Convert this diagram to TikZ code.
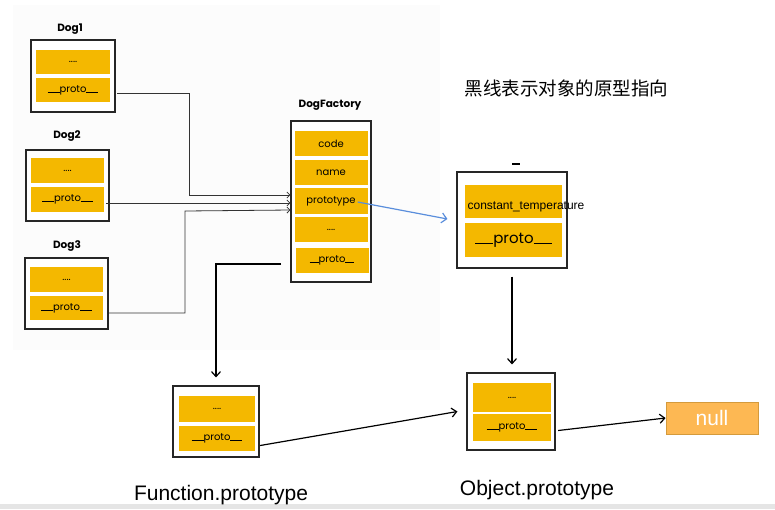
\documentclass[tikz,border=0pt]{standalone}
\usepackage{fontspec}
\setmainfont{Liberation Sans}
\newfontfamily\hand{Poppins}
\newfontfamily\cjk{Noto Sans CJK SC}
\usetikzlibrary{arrows.meta}
\definecolor{fieldyellow}{HTML}{F4B800}
\definecolor{nullfill}{HTML}{FDB853}
\definecolor{nulldraw}{HTML}{D49A3C}
\definecolor{bluearrow}{HTML}{5A8EDC}
\newcommand{\protolbl}[1]{\rule[-0.4pt]{#1}{0.7pt}proto\rule[-0.4pt]{#1}{0.7pt}}
\tikzset{
  outer/.style={draw=black!85, line width=1.1pt, fill=white, inner sep=0pt},
  field/.style={fill=fieldyellow, inner sep=0pt, font=\hand\fontsize{10}{11}\selectfont},
  title/.style={font=\hand\bfseries\fontsize{10.5}{12}\selectfont},
  conn/.style={draw=black!80, line width=0.8pt},
  hook/.style={-{Straight Barb[length=3pt,width=6pt]}},
  arr/.style={-{Straight Barb[length=5pt,width=9pt]}, line width=1.2pt},
  biglabel/.style={font=\fontsize{21}{25}\selectfont}
}
\begin{document}
\begin{tikzpicture}[x=1pt,y=-1pt]
\useasboundingbox (0,0) rectangle (775,509);
\fill[white] (0,0) rectangle (775,509);
\fill[black!1] (13,5) rectangle (440,350);
\fill[black!10] (0,504) rectangle (775,509);

% Dog1
\node[title] (t1) at (70,29) {Dog1};
\node[outer, minimum width=84, minimum height=72] (d1) at (73,76) {};
\node[field, minimum width=74, minimum height=24] (d1f) at (73,62) {....};
\node[field, minimum width=74, minimum height=24] (d1p) at (73,90) {\protolbl{12pt}};
% Dog2
\node[title] (t2) at (67,136) {Dog2};
\node[outer, minimum width=83, minimum height=71] (d2) at (67.5,185.5) {};
\node[field, minimum width=73, minimum height=25] (d2f) at (67.5,170.5) {....};
\node[field, minimum width=73, minimum height=25] (d2p) at (67.5,199.5) {\protolbl{12pt}};
% Dog3
\node[title] (t3) at (67,246) {Dog3};
\node[outer, minimum width=83, minimum height=71] (d3) at (66.5,293.5) {};
\node[field, minimum width=73, minimum height=25] (d3f) at (66.5,279.5) {....};
\node[field, minimum width=73, minimum height=24] (d3p) at (66.5,308) {\protolbl{12pt}};

% DogFactory
\node[title] (tdf) at (330,105) {DogFactory};
\node[outer, minimum width=80, minimum height=161] (df) at (331,201.5) {};
\node[field, minimum width=73, minimum height=25] (dfc) at (331,143.5) {code};
\node[field, minimum width=73, minimum height=25] (dfn) at (331,172.5) {name};
\node[field, minimum width=73, minimum height=26] (dfpt) at (331,201) {prototype};
\node[field, minimum width=73, minimum height=25] (dfd) at (331,229.5) {....};
\node[field, minimum width=73, minimum height=25] (dfp) at (332,260.5) {\protolbl{9pt}};

% constant_temperature
\node[outer, minimum width=110, minimum height=96] (ct) at (512,220) {};
\node[field, minimum width=97, minimum height=33] (ctf) at (513.5,201.5) {};
\node[field, minimum width=97, minimum height=34, font=\hand\fontsize{15}{17}\selectfont] (ctp) at (513.5,240) {\protolbl{18pt}};
\node[font=\fontsize{12}{14}\selectfont, inner sep=0pt] (ctl) at (526,207) {constant\_temperature};
\draw[black, line width=1.5pt] (512,164) -- (520,164);

% Function.prototype
\node[outer, minimum width=86, minimum height=71] (fo) at (216,421.5) {};
\node[field, minimum width=76, minimum height=26] (fof) at (217,409) {....};
\node[field, minimum width=76, minimum height=25] (fop) at (217,438.5) {\protolbl{12pt}};
\node[biglabel] (fl) at (221,495) {Function.prototype};

% Object.prototype
\node[outer, minimum width=88, minimum height=77] (ob) at (511,411.5) {};
\node[field, minimum width=78, minimum height=29] (obf) at (512,397.5) {....};
\node[field, minimum width=78, minimum height=27] (obp) at (512,427.5) {\protolbl{12pt}};
\node[biglabel] (ol) at (537,490) {Object.prototype};

% null
\node[draw=nulldraw, fill=nullfill, line width=0.8pt, minimum width=92, minimum height=32, text=white, font=\fontsize{21}{24}\selectfont] (nl) at (712,418) {null};

% heading
\node[font=\cjk\fontsize{18.5}{22}\selectfont, anchor=west] (hd) at (461,88) {黑线表示对象的原型指向};

% connectors Dog -> DogFactory
\draw[conn, hook] ([xshift=7pt,yshift=-3pt]d1p.east) -| (189,195) -- ([yshift=6.5pt]df.west);
\draw[conn, hook] ([xshift=2pt,yshift=-3.5pt]d2p.east) -- ([yshift=-1.5pt]df.west);
\draw[conn, hook] ([xshift=6pt,yshift=-5pt]d3p.east) -| (185,211) -- ([yshift=-8.5pt]df.west);

% prototype -> constant_temperature
\draw[bluearrow, line width=1.2pt, -{Straight Barb[length=5pt,width=10pt]}] ([xshift=-10pt,yshift=-1pt]dfpt.east) -- ([xshift=-9pt,yshift=0pt]ct.west |- 0,219);

% DogFactory -> Function.prototype
\coordinate (fs) at (281,264);
\draw[arr] (fs) -| ([yshift=8pt]fo.north);

% constant_temperature -> Object.prototype
\draw[arr, shorten <=8pt, shorten >=8pt] (ct.south) -- (ct.south |- ob.north);

% Function proto -> Object
\draw[arr] ([xshift=5pt,yshift=-7pt]fop.east) -- ([xshift=-9pt]ob.west);

% Object proto -> null
\draw[arr] ([xshift=7pt,yshift=-3pt]obp.east) -- (nl.west);
\end{tikzpicture}
\end{document}
